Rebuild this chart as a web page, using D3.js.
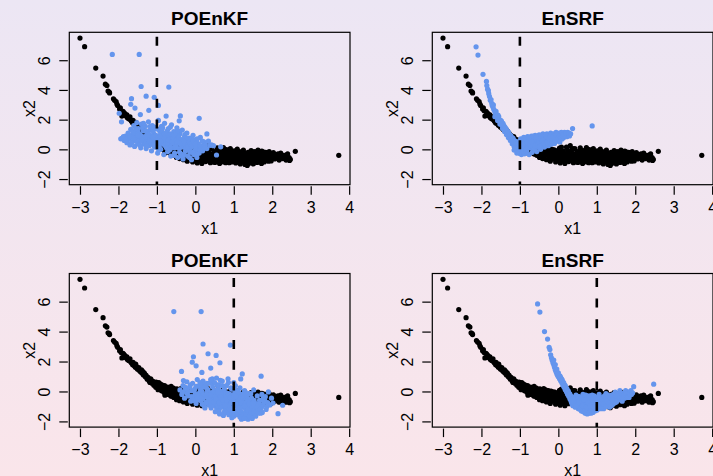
<!DOCTYPE html>
<html><head><meta charset="utf-8">
<script src="https://cdn.jsdelivr.net/npm/d3@7"></script>
<style>html,body{margin:0;padding:0;overflow:hidden;}svg{display:block;}</style>
</head><body>
<svg id="chart" width="713" height="476"></svg>
<script>
// ---------- data ----------
const titles = ["POEnKF", "EnSRF", "POEnKF", "EnSRF"];
const obsX1 = [-1, -1, 1, 1];
const xTicks = [-3, -2, -1, 0, 1, 2, 3, 4];
const yTicks = [-2, 0, 2, 4, 6];
const xLabel = "x1", yLabel = "x2";

// prior ensemble (black), same in all panels
const prior = [
[-3.00,7.49],[-2.88,6.91],[-2.59,5.47],[-2.40,4.93],[-2.34,4.39],[-2.30,4.30],[-2.27,3.92],[-2.23,3.80],[-2.24,3.86],[-2.13,3.40],[-2.10,3.30],[-2.06,3.22],[-2.02,2.95],[-2.04,3.05],[-1.97,2.72],[-1.95,2.80],[-1.91,2.24],[-1.88,2.55],[-1.86,2.48],[-1.83,2.40],[-1.80,2.25],[-1.78,2.32],[-1.75,2.10],[-1.72,2.05],[-1.70,2.18],[-1.66,1.90],[-1.63,1.78],[-1.62,1.95],[-1.58,1.70],[-1.56,1.62],[-1.55,1.82],[-1.52,1.55],[-1.50,1.48],[-1.47,1.60],[-1.45,1.38],[-1.42,1.30],[-1.40,1.45],[-1.38,1.22],[-1.35,1.10],[-1.33,1.25],[-1.30,0.98],[-1.28,1.08],[-1.25,0.82],[-1.23,0.95],[-1.20,0.70],[-1.18,0.60],[-1.16,0.85],[-1.13,0.55],[-1.10,0.68],[-1.08,0.42],[-1.05,0.50],[-1.02,0.62],[-1.00,0.35],[-0.98,0.45],[-0.96,0.25],[-0.94,0.55],[-0.92,0.18],[-0.90,0.38],[-0.88,0.05],[-0.86,0.28],[-0.84,0.12],[-0.82,-0.05],[-0.80,0.40],[-0.78,0.20],[-0.76,-0.12],[-0.74,0.02],[-0.72,0.30],[-0.70,-0.20],[-0.68,0.10],[-0.66,-0.05],[-0.64,-0.30],[-0.62,0.18],[-0.60,-0.15],[-0.58,0.05],[-0.56,-0.40],[-0.54,-0.10],[-0.52,0.12],[-0.50,-0.25],
[-0.49,-0.55],[-0.47,0.05],[-0.45,-0.35],[-0.43,-0.15],[-0.41,-0.62],[-0.39,-0.02],[-0.37,-0.45],[-0.35,-0.25],[-0.33,0.10],[-0.31,-0.70],[-0.29,-0.38],[-0.27,-0.10],[-0.25,-0.55],[-0.23,-0.28],[-0.21,-0.80],[-0.19,0.02],[-0.17,-0.48],[-0.15,-0.20],[-0.13,-0.65],[-0.11,-0.35],[-0.09,-0.05],[-0.07,-0.85],[-0.05,-0.52],[-0.03,-0.22],[-0.01,-0.70],[0.01,-0.40],[0.03,0.08],[0.05,-0.92],[0.07,-0.60],[0.09,-0.28],[0.11,-0.78],[0.13,-0.12],[0.15,-0.48],[0.17,-0.95],[0.19,-0.35],[0.21,0.15],[0.23,-0.62],[0.25,-0.20],[0.27,-0.82],[0.29,-0.45],[0.31,0.25],[0.33,-0.70],[0.35,-0.05],[0.37,-0.55],[0.39,-0.90],[0.41,-0.30],[0.43,0.05],[0.45,-0.75],[0.47,-0.42],[0.49,-0.15],[0.51,-0.88],[0.53,-0.58],[0.55,-0.25],[0.57,0.10],[0.59,-0.72],[0.61,-0.38],[0.63,-0.95],[0.65,-0.08],[0.67,-0.52],[0.69,-0.80],[0.71,-0.20],[0.73,0.12],[0.75,-0.65],[0.77,-0.35],[0.79,-0.90],[0.81,-0.02],[0.83,-0.48],[0.85,-0.75],[0.87,-0.18],[0.89,-0.60],[0.91,0.05],[0.93,-0.40],[0.95,-0.85],[0.97,-0.28],[0.99,-0.68],[1.01,-0.10],[1.03,-0.52],[1.05,-0.92],[1.07,-0.35],[1.09,0.02],[1.11,-0.72],[1.13,-0.45],[1.15,-0.15],[1.17,-0.98],[1.19,-0.60],[1.21,-0.30],[1.23,-0.82],[1.25,-0.05],[1.27,-0.55],[1.29,-1.02],[1.31,-0.38],[1.33,-0.75],[1.35,-1.08],[1.37,-0.20],[1.39,-0.62],[1.41,-0.92],[1.43,-0.45],[1.45,-0.08],[1.47,-0.78],[1.49,-0.30],[1.51,-0.98],[1.53,-0.55],[1.55,-0.15],[1.57,-0.70],[1.59,-0.40],[1.61,-0.88],[1.63,-0.05],[1.65,-0.58],[1.67,-0.25],[1.69,-0.80],[1.71,-0.45],[1.73,-0.12],[1.75,-0.68],[1.77,-0.35],[1.79,-0.85],[1.81,-0.52],[1.83,-0.20],[1.85,-0.72],[1.88,-0.40],[1.91,-0.60],[1.94,-0.28],[1.97,-0.78],[2.00,-0.45],[2.03,-0.22],[2.06,-0.65],[2.09,-0.38],[2.12,-0.55],[2.15,-0.30],[2.18,-0.72],[2.21,-0.48],[2.24,-0.35],[2.27,-0.62],[2.30,-0.42],[2.33,-0.55],[2.36,-0.72],[2.39,-0.45],[2.42,-0.60],[2.45,-0.75],[2.47,-0.68],[2.60,-0.13],[3.73,-0.40],
[-0.95,0.60],[-0.87,0.45],[-0.79,-0.25],[-0.71,0.15],[-0.63,0.35],[-0.55,-0.05],[-0.46,-0.20],[-0.38,0.20],[-0.28,-0.25],[-0.18,-0.60],[-0.08,-0.30],[0.02,-0.10],[0.12,-0.55],[0.22,-0.35],[0.32,-0.18],[0.42,-0.62],[0.52,-0.40],[0.62,-0.68],[0.72,-0.45],[0.82,-0.28],[0.92,-0.62],[1.02,-0.80],[1.12,-0.25],[1.22,-0.50],[1.32,-0.85],[1.42,-0.30],[1.52,-0.42],[1.62,-0.65],[1.72,-0.95],[1.82,-0.38],[1.92,-0.15],[2.02,-0.60],[2.22,-0.25],[2.40,-0.30],
[-1.93,2.60],[-1.85,2.30],[-1.77,2.15],[-1.68,1.98],[-1.60,1.82],[-1.53,1.66],[-1.46,1.45],[-1.37,1.35],[-1.31,1.15],[-1.26,0.92],[-1.21,0.80],[-1.14,0.72],[-1.07,0.58],[-1.03,0.28],[-0.97,0.12],[-0.91,0.50],[-0.83,0.35],[-0.77,0.05],[-0.69,0.25],[-0.61,-0.32],[-0.57,0.22],[-0.48,0.18],[-0.42,-0.48],[-0.34,-0.08],[-0.26,0.05],[-0.22,-0.42],[-0.14,-0.02],[-0.06,-0.62],[0.04,-0.72],[0.08,0.15],[0.14,-0.30],[0.18,-0.68],[0.24,-0.05],[0.28,-0.58],[0.34,-0.38],[0.38,0.05],[0.44,-0.85],[0.48,-0.28],[0.54,-0.78],[0.58,-0.05],[0.64,-0.30],[0.68,-0.60],[0.74,-0.85],[0.78,-0.15],[0.84,-0.62],[0.88,-0.90],[0.94,-0.15],[0.98,-0.45],[1.04,-0.68],[1.08,-0.15],[1.14,-0.85],[1.18,-0.40],[1.24,-0.68],[1.28,-0.25],[1.34,-0.55],[1.38,-0.95],[1.44,-0.62],[1.48,-0.15],[1.54,-0.85],[1.58,-0.55],[1.64,-0.30],[1.68,-0.68],[1.74,-0.52],[1.78,-0.18],[1.86,-0.55],[1.90,-0.80],[1.96,-0.50],[2.05,-0.40],[2.14,-0.62],[2.20,-0.38],[2.28,-0.50],[2.35,-0.38],[2.44,-0.55]
];

// POEnKF posterior, observation x1 = -1
const poenkfObsNeg = [
[-2.16,6.39],[-1.46,6.39],[-1.41,4.23],[-0.69,4.19],[-1.28,3.58],[-1.07,3.50],[-1.66,3.41],[-1.68,3.03],[-1.57,2.78],[-1.21,2.63],[-0.96,2.96],[-1.43,2.34],[-1.98,2.43],[-1.92,1.85],[-0.39,2.25],[0.10,2.09],[-0.42,1.92],[-0.76,2.24],[0.30,1.04],[-1.94,0.71],[0.55,-0.38],[0.38,0.27],[0.66,0.17],
[-1.90,0.75],[-1.85,0.60],[-1.82,0.90],[-1.78,0.45],[-1.75,1.10],[-1.72,0.70],[-1.70,0.30],[-1.68,1.35],[-1.65,0.95],[-1.62,0.55],[-1.60,1.60],[-1.58,0.20],[-1.56,1.15],[-1.54,0.80],[-1.52,1.80],[-1.50,0.40],[-1.48,1.40],[-1.46,0.65],[-1.44,1.00],[-1.42,0.10],[-1.40,1.70],[-1.38,0.85],
[-1.36,1.25],[-1.34,0.35],[-1.32,0.70],[-1.30,1.55],[-1.28,0.05],[-1.26,1.00],[-1.24,0.50],[-1.22,1.85],[-1.20,0.25],[-1.18,1.30],[-1.16,0.80],[-1.14,-0.10],[-1.12,1.60],[-1.10,0.60],[-1.08,1.05],[-1.06,0.15],[-1.04,1.40],[-1.02,0.40],[-1.00,0.90],[-0.98,-0.25],[-0.96,1.95],[-0.94,0.70],[-0.92,1.20],[-0.90,0.00],[-0.88,1.55],[-0.86,0.45],[-0.84,0.95],[-0.82,-0.35],[-0.80,1.75],[-0.78,0.25],
[-0.76,1.10],[-0.74,0.60],[-0.72,-0.15],[-0.70,1.40],[-0.68,0.35],[-0.66,0.85],[-0.64,-0.45],[-0.62,1.65],[-0.60,0.10],[-0.58,0.55],[-0.56,1.20],[-0.54,-0.25],[-0.52,0.80],[-0.50,0.30],[-0.48,1.45],[-0.46,-0.55],[-0.44,0.65],[-0.42,0.05],[-0.40,1.05],[-0.38,-0.30],[-0.36,0.45],[-0.34,1.30],[-0.32,-0.65],[-0.30,0.20],[-0.28,0.85],[-0.26,-0.10],[-0.24,0.55],[-0.22,1.10],
[-0.20,-0.45],[-0.18,0.30],[-0.16,0.75],[-0.14,-0.20],[-0.12,0.10],[-0.10,-0.70],[-0.08,0.50],[-0.06,0.95],[-0.04,-0.35],[-0.02,0.25],[0.00,-0.05],[0.02,0.65],[0.04,-0.55],[0.06,0.40],[0.08,0.05],[0.10,-0.25],[0.13,0.80],[0.16,0.20],[0.19,-0.10],[0.22,0.50],[0.26,0.30],[0.30,0.05],[0.34,0.55],[0.42,0.30],[0.47,0.25],
[-1.25,0.75],[-1.15,0.45],[-1.05,0.75],[-0.95,0.30],[-0.85,0.65],[-0.75,0.85],[-0.65,0.15],[-0.55,0.40],[-0.45,0.95],[-0.35,0.15],[-0.25,0.35],[-0.15,0.50],[-0.90,1.00],[-0.70,0.95],[-0.60,0.75],[-1.10,1.25],[-1.30,0.40],[-0.50,0.60],[-0.80,0.50],[-1.00,0.15],
[-1.87,0.85],[-1.80,0.65],[-1.73,0.95],[-1.66,0.45],[-1.63,1.20],[-1.57,0.95],[-1.53,0.60],[-1.49,1.15],[-1.45,0.30],[-1.41,0.85],[-1.37,1.50],[-1.33,0.55],[-1.29,1.25],[-1.27,0.25],[-1.23,1.05],[-1.19,0.55],[-1.17,1.55],[-1.13,0.90],[-1.09,0.30],[-1.07,1.50],[-1.03,0.95],[-0.99,0.55],[-0.97,1.35],[-0.93,0.10],[-0.91,0.85],[-0.87,1.25],[-0.83,0.35],[-0.81,1.05],[-0.77,0.60],[-0.73,1.25],[-0.71,0.40],[-0.67,-0.05],[-0.65,1.05],[-0.61,0.45],[-0.57,0.95],[-0.53,0.10],[-0.51,1.10],[-0.47,0.45],[-0.43,0.80],[-0.41,-0.20],[-0.37,0.65],[-0.33,0.40],[-0.29,-0.35],[-0.27,1.00],[-0.23,0.15],[-0.19,0.60],[-0.17,-0.05],[-0.13,0.35],[-0.09,0.75],[-0.07,-0.20],[-0.03,0.45],[0.01,0.10],[0.05,0.70],[0.09,0.30],[0.12,-0.05],[0.18,0.55],[0.24,0.10],[-1.35,1.75],[-0.85,1.45],[-0.65,1.50],[-1.55,1.40],[-0.45,1.25],[-0.25,0.75],[-0.05,0.60],
[-1.70,0.85],[-1.60,0.75],[-1.50,0.95],[-1.40,0.60],[-1.30,0.85],[-1.20,1.00],[-1.10,0.80],[-1.00,0.65],[-0.90,0.55],[-0.80,0.75],[-0.70,0.65],[-0.60,0.50],[-0.50,0.15],[-0.40,0.40],[-0.30,0.55],[-0.20,0.15],[-0.10,0.25],[0.00,0.35],[-0.95,-0.05],[-0.75,0.10],[-0.55,-0.40],[-0.35,-0.45],[-0.15,-0.55],[0.05,-0.30]
];

// EnSRF posterior, observation x1 = -1
const ensrfObsNeg = [
[-2.14,6.90],[-2.09,6.35],[-1.96,5.05],[-1.87,4.57],[-1.84,4.05],[-1.82,3.95],[-1.79,3.55],[-1.77,3.30],[-1.73,3.10],[-1.72,2.95],[-1.70,2.85],[-1.68,2.70],[-1.66,2.60],[-1.64,2.45],[-1.62,2.35],[-1.60,2.25],[-1.58,2.15],[-1.56,2.05],[-1.54,1.95],[-1.52,1.85],[-1.50,1.78],[-1.48,1.70],[-1.46,1.60],[-1.44,1.52],[-1.42,1.45],[-1.40,1.38],[-1.38,1.30],[-1.36,1.22],[-1.34,1.12],[-1.32,1.05],[-1.30,0.98],[-1.28,0.88],[-1.26,0.80],[-1.24,0.72],[-1.22,0.65],[-1.20,0.55],[-1.18,0.48],[-1.16,0.40],[-1.14,0.30],[-1.12,0.22],[-1.10,0.15],[-1.08,0.05],[-1.06,-0.05],[-1.04,-0.12],[-1.02,-0.20],[-1.00,-0.28],
[-1.65,2.20],[-1.58,1.95],[-1.52,1.70],[-1.45,1.40],[-1.40,1.20],[-1.35,1.00],[-1.30,0.80],[-1.25,0.60],[-1.20,0.38],[-1.15,0.20],[-1.10,0.00],[-1.05,-0.15],[-1.55,2.20],[-1.48,1.90],[-1.42,1.62],[-1.36,1.40],[-1.30,1.18],[-1.24,0.95],[-1.18,0.75],[-1.12,0.55],[-1.06,0.35],
[-1.05,0.50],[-1.02,0.20],[-0.98,0.70],[-0.96,-0.35],[-0.94,0.40],[-0.92,0.05],[-0.90,0.80],[-0.88,-0.30],[-0.86,0.55],[-0.84,0.20],[-0.82,-0.10],[-0.80,0.85],[-0.78,0.35],[-0.76,-0.35],[-0.74,0.60],[-0.72,0.10],[-0.70,0.90],[-0.68,-0.20],[-0.66,0.45],[-0.64,0.75],[-0.62,0.00],[-0.60,0.95],[-0.58,0.30],[-0.56,-0.15],[-0.54,0.65],[-0.52,0.15],[-0.50,0.98],[-0.48,0.45],[-0.46,0.00],[-0.44,0.80],[-0.42,0.30],[-0.40,1.05],[-0.38,0.55],[-0.36,0.15],[-0.34,0.90],[-0.32,0.40],[-0.30,1.05],[-0.28,0.70],[-0.26,0.25],[-0.24,0.95],[-0.22,0.50],[-0.20,1.10],[-0.18,0.35],[-0.16,0.80],[-0.14,0.60],[-0.12,1.05],[-0.10,0.40],[-0.08,0.85],[-0.06,1.15],[-0.04,0.55],[-0.02,0.95],[0.00,0.70],[0.02,1.10],[0.04,0.50],[0.06,0.90],[0.08,1.15],[0.10,0.70],[0.12,1.00],[0.14,0.80],[0.16,1.15],[0.18,0.90],[0.20,1.05],[0.22,0.85],[0.24,1.15],[0.26,0.95],[0.28,1.10],[0.30,1.00],[0.37,1.40],[0.88,1.58],
[-1.15,-0.05],[-1.10,0.40],[-1.08,-0.25],[-1.02,0.05],[-0.97,0.25],[-0.93,-0.15],[-0.89,0.60],[-0.85,0.00],[-0.83,0.70],[-0.79,0.15],[-0.75,0.45],[-0.71,0.70],[-0.67,0.20],[-0.63,0.55],[-0.59,0.70],[-0.55,0.40],[-0.51,0.60],[-0.47,0.75],[-0.43,0.55],[-0.39,0.85],[-0.35,0.65],[-0.31,0.85],
[-0.99,0.55],[-0.95,0.15],[-0.91,0.35],[-0.87,0.75],[-0.81,0.45],[-0.77,0.80],[-0.73,0.30],[-0.69,0.50],[-0.65,0.90],[-0.61,0.25],[-0.57,0.85],[-0.53,0.35],[-0.49,0.20],[-0.45,0.95],[-0.41,0.60],[-0.37,0.40],[-0.33,1.00],[-0.29,0.50],[-0.25,0.75],[-0.21,0.85],[-0.17,0.55],[-0.13,0.85],[-0.09,0.65],[-0.05,1.00],[-0.01,0.80],[0.03,0.90],[0.07,0.75],[0.11,0.90],[0.15,1.00],[0.19,1.10],[0.23,0.95],[0.27,1.05],[0.29,0.90],[0.32,1.05],[-1.13,0.10],[-1.17,0.65],[-1.23,0.85],[-1.28,1.05],[-1.33,1.25],[-1.39,1.50],[-1.44,1.75],[-1.50,1.95],[-1.57,2.30],[-1.62,2.55],[-1.69,3.00],[-1.75,3.35],[-1.81,3.75],[-1.86,4.30]
];

// POEnKF posterior, observation x1 = 1
const poenkfObsPos = [
[-0.56,5.34],[0.15,5.34],[0.20,3.17],[0.91,3.10],[0.33,2.52],[0.54,2.41],[-0.05,2.32],[-0.08,1.96],[0.02,1.71],[0.64,1.92],[0.40,1.56],[-0.36,1.34],[0.17,1.27],[-0.31,0.73],[1.22,1.17],[1.18,0.84],[1.71,1.02],[1.90,-0.03],[2.15,-1.48],[2.27,-0.92],[2.02,-0.77],
[-0.40,0.10],[-0.35,-0.20],[-0.32,0.40],[-0.28,-0.45],[-0.25,0.15],[-0.22,0.65],[-0.18,-0.30],[-0.15,0.30],[-0.12,-0.65],[-0.10,0.05],[-0.07,0.55],[-0.04,-0.45],[-0.01,0.20],[0.02,-0.80],[0.05,0.80],[0.08,-0.15],[0.11,0.40],[0.14,-0.60],[0.17,0.00],[0.20,0.70],[0.23,-0.95],[0.26,-0.35],[0.29,0.25],[0.32,-0.70],[0.35,0.55],[0.38,-0.10],[0.41,-1.10],[0.44,0.85],[0.47,-0.50],[0.50,0.10],[0.53,-0.85],[0.56,0.45],[0.59,-0.25],[0.62,-1.20],[0.65,0.75],[0.68,-0.60],[0.71,0.00],[0.74,-1.40],[0.77,0.35],[0.80,-0.90],[0.83,-0.30],[0.86,0.60],[0.89,-1.10],[0.92,-0.50],[0.95,0.15],[0.98,-1.55],[1.01,-0.75],[1.04,0.40],[1.07,-0.20],[1.10,-1.30],[1.13,-0.55],[1.16,0.25],[1.19,-0.95],[1.22,-1.70],[1.25,-0.35],[1.28,0.05],[1.31,-1.20],[1.34,-0.70],[1.37,-1.85],[1.40,-0.15],[1.43,-1.00],[1.46,-0.45],[1.49,-1.55],[1.52,0.10],[1.55,-0.80],[1.58,-1.30],[1.61,-0.30],[1.64,-1.05],[1.67,-0.60],[1.70,-1.45],[1.73,-0.20],[1.76,-0.90],[1.80,-0.55],[1.84,-1.20],[1.88,-0.75],[1.94,-0.90],[1.98,-0.45],
[0.10,-0.30],[0.20,-0.50],[0.30,-0.05],[0.40,-0.40],[0.50,-0.65],[0.55,-0.15],[0.60,-0.45],[0.65,-0.85],[0.70,-0.30],[0.75,-0.65],[0.80,-0.10],[0.85,-0.50],[0.90,-0.80],[0.95,-0.30],[1.00,-1.00],[1.05,-0.55],[1.10,-0.85],[1.15,-0.15],[1.20,-0.60],[1.25,-1.05],[1.30,-0.45],[1.35,-0.95],[1.40,-1.35],[1.45,-0.75],[1.50,-1.10],[0.35,-0.90],[0.45,0.30],[0.60,0.20],[0.75,0.15],[0.90,-0.20],[1.05,0.05],[0.00,-0.20],[-0.20,0.00],[0.15,0.25],[0.25,-1.10],[0.55,-1.05],[0.85,-1.30],[1.15,-1.45],[1.35,-1.60],[0.65,-0.05],[0.45,-0.25],[1.60,-0.85],[1.00,-0.40],[0.80,-0.70],[1.10,-0.65],
[-0.33,-0.05],[-0.27,0.30],[-0.21,-0.15],[-0.13,0.45],[-0.09,-0.35],[-0.03,0.05],[0.03,0.35],[0.07,-0.55],[0.13,0.10],[0.19,-0.25],[0.22,0.45],[0.27,-0.75],[0.33,0.10],[0.37,-0.55],[0.42,0.55],[0.46,-0.05],[0.52,-0.30],[0.57,-0.60],[0.61,0.45],[0.67,-0.20],[0.72,-0.85],[0.76,-0.40],[0.81,0.40],[0.84,-1.05],[0.88,-0.35],[0.93,-1.15],[0.97,-0.60],[1.02,-0.15],[1.06,-0.90],[1.11,-0.40],[1.17,-1.10],[1.21,-0.30],[1.26,-0.75],[1.29,-1.45],[1.33,-0.20],[1.38,-0.55],[1.42,-1.20],[1.47,-0.95],[1.53,-0.60],[1.56,-1.50],[1.62,-1.15],[1.66,-0.85],[1.72,-1.05],[1.78,-0.70],[1.82,-0.35],[1.86,-1.00],[0.70,0.40],[0.92,0.25],[0.50,0.60],[0.30,0.55],[0.12,0.60],[1.10,0.00],[1.30,-0.05],[0.60,-1.30],[0.95,-1.75],[1.20,-1.85],[1.45,-1.75],[0.40,-0.75],[0.15,-0.45],[0.78,-1.20],
[0.52,-1.35],[0.58,-0.95],[0.63,-1.50],[0.68,-1.05],[0.73,-1.60],[0.79,-1.40],[0.82,-1.00],[0.87,-1.55],[0.91,-1.25],[0.96,-1.45],[1.00,-1.65],[1.03,-1.30],[1.08,-1.55],[1.12,-1.10],[1.16,-1.70],[1.19,-1.35],[1.24,-1.55],[1.27,-1.80],[1.32,-1.50],[1.36,-1.25],[1.41,-1.65],[1.44,-1.40],[1.48,-1.80],[1.52,-1.35],[1.57,-1.65],[1.60,-1.00],[1.64,-1.45],[1.69,-1.20],[1.74,-1.40],[1.77,-0.45],[0.32,-0.40],[0.38,-0.25],[0.43,-0.95],[0.48,-0.70],[0.53,-0.50],[0.58,-0.05],[0.62,-0.75],[0.66,-0.40],[0.71,-0.55],[0.77,-0.95],[0.82,-0.55],[0.86,-0.15],[0.91,-0.40],[0.96,-0.75],[1.01,-0.35],[1.06,-0.30],[1.12,-0.05],[1.18,-0.75],[1.23,-0.20],[1.28,-0.95],[1.34,-0.30],[1.39,-0.80],[1.44,-0.15],[1.50,-0.80],[0.25,0.30],[0.40,0.80],[0.55,0.90],[0.70,0.70],[0.85,0.85],[1.00,0.60],[-0.05,-0.60],[0.05,-0.35],[0.18,-0.85],[0.28,-0.20]
];

// EnSRF posterior, observation x1 = 1
const ensrfObsPos = [
[-0.54,5.85],[-0.48,5.30],[-0.36,4.00],[-0.28,3.50],[-0.24,2.95],[-0.22,2.80],[-0.20,2.45],[-0.18,2.25],[-0.16,2.08],[-0.14,1.92],[-0.12,1.78],[-0.10,1.62],[-0.08,1.45],[-0.06,1.32],[-0.04,1.18],[-0.02,1.08],[0.00,0.98],[0.03,0.85],[0.06,0.72],[0.09,0.58],[0.12,0.42],[0.15,0.28],[0.18,0.12],[0.21,-0.02],[0.24,-0.18],[0.27,-0.32],[0.30,-0.48],[0.33,-0.62],[0.36,-0.75],
[-0.12,2.10],[-0.08,1.80],[-0.04,1.50],[0.00,1.25],[0.04,1.05],[0.08,0.85],[0.12,0.65],[0.16,0.45],[0.20,0.25],[0.24,0.05],[0.28,-0.12],[0.32,-0.30],[0.36,-0.45],[0.06,0.95],[0.10,0.78],[0.14,0.58],[0.18,0.40],[0.22,0.20],[0.26,0.02],[0.30,-0.18],
[0.38,-0.95],[0.40,-0.40],[0.42,-0.70],[0.44,-1.05],[0.46,-0.25],[0.48,-0.55],[0.50,-0.85],[0.52,-1.15],[0.54,-0.35],[0.56,-0.70],[0.58,-1.00],[0.60,-1.30],[0.62,-0.50],[0.64,-0.20],[0.66,-0.85],[0.68,-1.15],[0.70,-1.45],[0.72,-0.60],[0.74,-0.30],[0.76,-1.00],[0.78,-1.35],[0.80,-0.75],[0.82,-0.45],[0.84,-1.20],[0.86,-0.95],[0.88,-0.25],[0.90,-1.40],[0.92,-0.65],[0.94,-1.10],[0.96,-0.40],[0.98,-0.85],[1.00,-1.25],[1.03,-0.55],[1.06,-0.20],[1.09,-1.05],[1.12,-0.75],[1.15,-0.40],[1.18,-1.15],[1.21,-0.60],[1.24,-0.15],[1.27,-0.90],[1.30,-0.45],[1.33,-1.05],[1.36,-0.70],[1.39,-0.25],[1.42,-0.85],[1.45,-0.50],[1.48,-0.05],[1.51,-0.70],[1.54,-0.30],[1.57,-0.55],[1.60,0.05],[1.63,-0.40],[1.66,-0.65],[1.69,-0.15],[1.72,-0.45],[1.75,0.05],[1.78,-0.30],[1.81,-0.10],[1.84,-0.40],[1.87,0.00],[1.90,-0.20],[1.96,0.32],[2.48,0.49],
[0.45,-0.75],[0.55,-1.05],[0.65,-1.35],[0.75,-1.50],[0.85,-1.45],[0.95,-1.30],[0.70,-0.90],[0.80,-1.10],[0.90,-0.80],[1.00,-0.60],[1.10,-0.95],[1.20,-0.90],[1.35,-0.95],[1.50,-0.45],[1.65,-0.30],[0.60,-0.75],[0.50,-0.50],[0.78,-0.55],[1.05,-1.15],[1.25,-0.50],[0.40,-0.60],[0.36,-0.85],
[0.40,-0.85],[0.43,-0.55],[0.47,-0.95],[0.51,-0.35],[0.53,-0.70],[0.57,-1.20],[0.59,-0.45],[0.63,-0.95],[0.67,-0.55],[0.69,-1.30],[0.71,-0.25],[0.73,-1.05],[0.77,-0.75],[0.79,-1.45],[0.81,-0.30],[0.83,-0.95],[0.87,-1.30],[0.89,-0.55],[0.91,-1.05],[0.93,-0.30],[0.97,-1.15],[0.99,-0.50],[1.02,-0.95],[1.05,-0.35],[1.08,-0.70],[1.11,-1.15],[1.14,-0.55],[1.17,-0.85],[1.20,-0.30],[1.23,-1.00],[1.26,-0.65],[1.29,-0.25],[1.32,-0.80],[1.35,-0.40],[1.38,-0.95],[1.41,-0.55],[1.44,-0.20],[1.47,-0.75],[1.50,-0.25],[1.53,-0.60],[1.56,-0.15],[1.59,-0.45],[1.62,-0.10],[1.67,-0.45],[1.71,-0.25],[1.76,-0.15],[1.80,-0.40],[1.85,-0.15],[1.89,0.05],[1.93,-0.10],[0.34,-0.70],[0.38,-0.50]
];

const posteriors = [poenkfObsNeg, ensrfObsNeg, poenkfObsPos, ensrfObsPos];

// ---------- layout ----------
const W = 713, H = 476;
const boxes = [
  {left: 69.3, top: 32.3, width: 280.7, height: 152.4},
  {left: 432.3, top: 32.3, width: 280.7, height: 152.4},
  {left: 69.3, top: 273.5, width: 280.7, height: 153.6},
  {left: 432.3, top: 273.5, width: 280.7, height: 153.6}
];
const xDomain = [-3.278, 4.022];
const yDomain = [-2.38, 7.88];
const priorColor = "#000000";
const postColor = "#6495ED";
const dotR = 2.6;
const font = "'Liberation Sans', Arial, Helvetica, sans-serif";

const svg = d3.select("#chart");
const defs = svg.append("defs");
const grad = defs.append("linearGradient").attr("id", "bg").attr("x1", 0).attr("y1", 0).attr("x2", 0).attr("y2", 1);
grad.append("stop").attr("offset", "0%").attr("stop-color", "#ECE6F4");
grad.append("stop").attr("offset", "100%").attr("stop-color", "#FAE5EA");
svg.append("rect").attr("width", W).attr("height", H).attr("fill", "url(#bg)");

boxes.forEach((b, i) => {
  const x = d3.scaleLinear().domain(xDomain).range([b.left, b.left + b.width]);
  const y = d3.scaleLinear().domain(yDomain).range([b.top + b.height, b.top]);
  const g = svg.append("g");
  const clipId = "clip" + i;
  defs.append("clipPath").attr("id", clipId).append("rect")
    .attr("x", b.left).attr("y", b.top).attr("width", b.width).attr("height", b.height);

  const plot = g.append("g").attr("clip-path", `url(#${clipId})`);
  plot.append("g").selectAll("circle").data(prior).join("circle")
    .attr("cx", d => x(d[0])).attr("cy", d => y(d[1])).attr("r", dotR).attr("fill", priorColor);
  plot.append("g").selectAll("circle").data(posteriors[i]).join("circle")
    .attr("cx", d => x(d[0])).attr("cy", d => y(d[1])).attr("r", dotR).attr("fill", postColor);
  plot.append("line")
    .attr("x1", x(obsX1[i])).attr("x2", x(obsX1[i]))
    .attr("y1", b.top).attr("y2", b.top + b.height)
    .attr("stroke", "#000").attr("stroke-width", 2.6)
    .attr("stroke-dasharray", "9,11.7").attr("stroke-dashoffset", 16.3);

  // box
  g.append("rect").attr("x", b.left).attr("y", b.top).attr("width", b.width).attr("height", b.height)
    .attr("fill", "none").attr("stroke", "#000").attr("stroke-width", 1.2);

  // x axis
  const xa = g.append("g").attr("transform", `translate(0,${b.top + b.height + 1.5})`)
    .call(d3.axisBottom(x).tickValues(xTicks).tickSize(8.5).tickPadding(7)
      .tickFormat(d => d < 0 ? "\u2212" + Math.abs(d) : String(d)));
  xa.select(".domain").remove();
  xa.selectAll(".tick line").attr("stroke", "#000").attr("stroke-width", 1.2);
  xa.selectAll(".tick text").attr("font-family", font).attr("font-size", 16).attr("fill", "#000");

  // y axis
  const ya = g.append("g").attr("transform", `translate(${b.left - 1.5},0)`)
    .call(d3.axisLeft(y).tickValues(yTicks).tickSize(8.5).tickPadding(7)
      .tickFormat(d => d < 0 ? "\u2212" + Math.abs(d) : String(d)));
  ya.select(".domain").remove();
  ya.selectAll(".tick line").attr("stroke", "#000").attr("stroke-width", 1.2);
  ya.selectAll(".tick text").attr("font-family", font).attr("font-size", 16).attr("fill", "#000")
    .attr("x", null).attr("dy", null)
    .attr("text-anchor", "middle")
    .attr("transform", `translate(${-17.5},0) rotate(-90)`);

  // titles and labels
  g.append("text").attr("x", b.left + b.width / 2).attr("y", b.top - 7)
    .attr("text-anchor", "middle").attr("font-family", font).attr("font-weight", "bold")
    .attr("font-size", 19).text(titles[i]);
  g.append("text").attr("x", b.left + b.width / 2).attr("y", b.top + b.height + 48.8)
    .attr("text-anchor", "middle").attr("font-family", font).attr("font-size", 16).text(xLabel);
  g.append("text").attr("transform", `translate(${b.left - 34},${b.top + b.height / 2}) rotate(-90)`)
    .attr("text-anchor", "middle").attr("font-family", font).attr("font-size", 16).text(yLabel);
});
</script>
</body></html>
